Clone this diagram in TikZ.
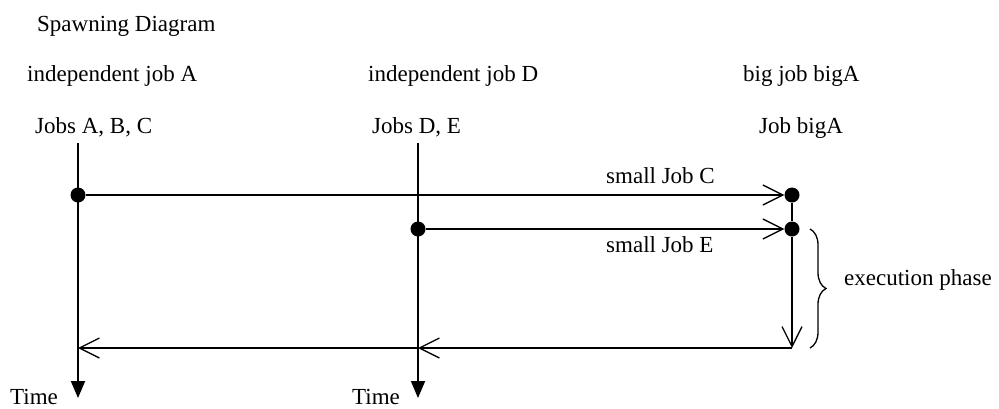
\documentclass[tikz,border=0pt]{standalone}
\usepackage{fontspec}
\setmainfont{Liberation Serif}
\usetikzlibrary{arrows.meta,decorations.pathreplacing}
\begin{document}
\begin{tikzpicture}[x=1pt,y=-1pt,
  lbl/.style={anchor=base west,inner sep=0pt,font=\fontsize{23}{27}\selectfont},
  dot/.style={circle,fill=black,inner sep=0pt,minimum size=15pt},
  timeline/.style={line width=1.8pt,-{Triangle[length=17pt,width=14pt]}},
  plain/.style={line width=1.8pt},
  spawn/.style={line width=1.8pt,-{Straight Barb[length=20pt,width=20pt,line width=1.3pt]}},
  bracestyle/.style={line width=1.3pt,decorate,decoration={brace,amplitude=16pt}}]
\useasboundingbox (0,0) rectangle (999,408);
% labels
\node[lbl] (title) at (37,31) {Spawning Diagram};
\node[lbl] (indA) at (27,81) {independent job A};
\node[lbl] (jobsA) at (35,133) {Jobs A, B, C};
\node[lbl] (indD) at (368,81) {independent job D};
\node[lbl] (jobsD) at (372,133) {Jobs D, E};
\node[lbl] (bigA) at (743,81) {big job bigA};
\node[lbl] (jobbig) at (759,133) {Job bigA};
\node[lbl] (smC) at (606,183) {small Job C};
\node[lbl] (smE) at (606,252) {small Job E};
\node[lbl] (exec) at (844,285) {execution phase};
\node[lbl] (timeA) at (10,404) {Time};
\node[lbl] (timeD) at (352,404) {Time};
% coordinates
\coordinate (Atop) at (78,143);
\coordinate (Abot) at (78,398);
\coordinate (Dtop) at (418,143);
\coordinate (Dbot) at (418,398);
\coordinate (bend) at (792,348);
\coordinate (retD) at (418,348);
\coordinate (retA) at (78,348);
\coordinate (brtop) at (810,229);
\coordinate (brbot) at (810,348);
% time lines
\draw[timeline] (Atop) -- (Abot);
\draw[timeline] (Dtop) -- (Dbot);
% dots
\node[dot] (dA) at (78,195) {};
\node[dot] (dD) at (418,229) {};
\node[dot] (dC) at (792,195) {};
\node[dot] (dE) at (792,229) {};
% spawns
\draw[spawn] (dA) -- (dC);
\draw[spawn] (dD) -- (dE);
\draw[plain] (dC) -- (dE);
\draw[spawn] (dE) -- (bend);
\draw[spawn] (bend) -- (retD);
\draw[spawn] (retD) -- (retA);
% brace
\draw[bracestyle] (brtop) -- (brbot);
\end{tikzpicture}
\end{document}
